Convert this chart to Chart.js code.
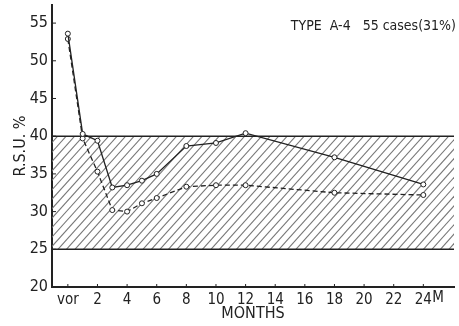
<!DOCTYPE html>
<html>
<head>
<meta charset="utf-8">
<script src="https://cdn.jsdelivr.net/npm/chart.js"></script>
<style>
  html, body { margin: 0; padding: 0; background: #fff; }
  #wrap { width: 459px; height: 326px; }
</style>
</head>
<body>
<div id="wrap"><canvas id="chart"></canvas></div>
<script>
// months after operation (0 = "vor", before)
const months = [0, 1, 2, 3, 4, 5, 6, 8, 10, 12, 18, 24];
const solidValues = [53.6, 40.3, 39.4, 33.2, 33.5, 34.1, 35.0, 38.7, 39.1, 40.4, 37.2, 33.6];
const dashedValues = [52.9, 39.7, 35.3, 30.2, 30.0, 31.1, 31.8, 33.3, 33.5, 33.5, 32.5, 32.2];
const xTicks = [0, 2, 4, 6, 8, 10, 12, 14, 16, 18, 20, 22, 24];
const xTickLabels = ['vor', '2', '4', '6', '8', '10', '12', '14', '16', '18', '20', '22', '24'];
const yTicks = [20, 25, 30, 35, 40, 45, 50, 55];
const normalBand = [25, 40];

const FONT = "'Liberation Sans Narrow', 'DejaVu Sans Condensed', sans-serif";
const INK = '#222';

const toPoints = vals => vals.map((v, i) => ({ x: months[i], y: v }));

// hatched normal range + small inward tick marks + "M" unit
const decorPlugin = {
    id: 'decor',
    beforeDatasetsDraw(chart) {
        const { ctx, chartArea: a, scales: { x, y } } = chart;
        const top = y.getPixelForValue(normalBand[1]);
        const bot = y.getPixelForValue(normalBand[0]);
        ctx.save();
        ctx.beginPath();
        ctx.rect(a.left, top, a.right - a.left, bot - top);
        ctx.clip();
        ctx.strokeStyle = '#777';
        ctx.lineWidth = 1.1;
        const h = bot - top;
        for (let sx = a.left - h; sx < a.right + h; sx += 8.5) {
            ctx.beginPath();
            ctx.moveTo(sx, bot);
            ctx.lineTo(sx + h * 0.9, top);
            ctx.stroke();
        }
        ctx.restore();

        ctx.save();
        ctx.strokeStyle = INK;
        ctx.lineWidth = 1.6;
        normalBand.forEach(v => {
            const py = y.getPixelForValue(v);
            ctx.beginPath();
            ctx.moveTo(a.left, py);
            ctx.lineTo(a.right, py);
            ctx.stroke();
        });
        ctx.lineWidth = 1;
        xTicks.forEach(v => {
            const px = x.getPixelForValue(v);
            ctx.beginPath();
            ctx.moveTo(px, a.bottom);
            ctx.lineTo(px, a.bottom - 3);
            ctx.stroke();
        });
        yTicks.forEach(v => {
            const py = y.getPixelForValue(v);
            ctx.beginPath();
            ctx.moveTo(a.left, py);
            ctx.lineTo(a.left + 4, py);
            ctx.stroke();
        });
        ctx.fillStyle = INK;
        ctx.font = '15px ' + FONT;
        ctx.textAlign = 'left';
        ctx.textBaseline = 'middle';
        ctx.fillText('M', x.getPixelForValue(24) + 9, a.bottom + 11);
        ctx.restore();
    }
};

new Chart(document.getElementById('chart'), {
    type: 'line',
    data: {
        datasets: [
            {
                data: toPoints(solidValues),
                borderColor: INK,
                borderWidth: 1.3,
                pointRadius: 2.5,
                pointBackgroundColor: '#fff',
                pointBorderColor: INK,
                pointBorderWidth: 1,
                tension: 0
            },
            {
                data: toPoints(dashedValues),
                borderColor: INK,
                borderWidth: 1.3,
                borderDash: [5, 3],
                pointRadius: 2.5,
                pointBackgroundColor: '#fff',
                pointBorderColor: INK,
                pointBorderWidth: 1,
                tension: 0
            }
        ]
    },
    options: {
        responsive: true,
        maintainAspectRatio: false,
        animation: false,
        layout: { padding: { top: 5, right: 0, left: 0, bottom: 0 } },
        plugins: {
            legend: { display: false },
            tooltip: { enabled: false },
            title: { display: false }
        },
        scales: {
            x: {
                type: 'linear',
                min: -1.07,
                max: 26.07,
                afterFit: s => {
                    s.height = 39;
                    s.paddingLeft = 0; s.paddingRight = 0;
                },
                afterBuildTicks: s => { s.ticks = xTicks.map(v => ({ value: v })); },
                grid: { display: false, drawTicks: false },
                border: { display: true, color: INK, width: 2 },
                ticks: {
                    padding: 4,
                    color: INK,
                    font: { family: FONT, size: 15 },
                    maxRotation: 0,
                    autoSkip: false,
                    callback: v => xTickLabels[xTicks.indexOf(v)]
                },
                title: {
                    display: true,
                    text: 'MONTHS',
                    color: INK,
                    font: { family: FONT, size: 16 },
                    padding: { top: 0, bottom: 3 }
                }
            },
            y: {
                min: 20,
                max: 57.4,
                afterFit: s => {
                    s.width = 52;
                    s.paddingTop = 0; s.paddingBottom = 0;
                },
                afterBuildTicks: s => { s.ticks = yTicks.map(v => ({ value: v })); },
                grid: { display: false, drawTicks: false },
                border: { display: true, color: INK, width: 2 },
                ticks: {
                    padding: 4,
                    color: INK,
                    font: { family: FONT, size: 16 }
                },
                title: {
                    display: true,
                    text: 'R.S.U. %',
                    color: INK,
                    font: { family: FONT, size: 16 },
                    padding: { top: 11, bottom: 0 }
                }
            }
        }
    },
    plugins: [decorPlugin, {
        id: 'caption',
        afterDraw(chart) {
            const { ctx } = chart;
            ctx.save();
            ctx.fillStyle = INK;
            ctx.font = '14px ' + FONT;
            ctx.textAlign = 'right';
            ctx.textBaseline = 'middle';
            ctx.fillText('TYPE  A-4   55 cases(31%)', 456, 26);
            ctx.restore();
        }
    }]
});
</script>
</body>
</html>
